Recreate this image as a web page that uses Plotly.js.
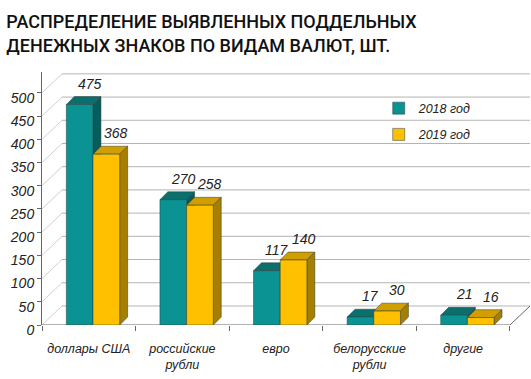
<!DOCTYPE html>
<html><head><meta charset="utf-8">
<script src="https://cdn.plot.ly/plotly-3.0.1.min.js"></script>
<style>html,body{margin:0;padding:0;background:#fff}#chart{width:531px;height:379px}</style>
</head><body><div id="chart"></div>
<script>
const categories = ['доллары США', 'российские<br>рубли', 'евро', 'белорусские<br>рубли', 'другие'];
const seriesNames = ['2018 год', '2019 год'];
const values2018 = [475, 270, 117, 17, 21];
const values2019 = [368, 258, 140, 30, 16];
const yTicks = [0, 50, 100, 150, 200, 250, 300, 350, 400, 450, 500];

const frontCol = ['#0b9292', '#ffc000'];
const topCol = ['#0b6f6d', '#d09e00'];
const sideCol = ['#075c5c', '#a77f00'];
const W = 0.285, OFF = [-0.24, 0.045];
const DX = 0.085, DY = 17;      // bar depth
const WX = 0.214, WY = 41;      // wall depth

const series = [values2018, values2019];
const shapes = [];
yTicks.forEach(v => {
  shapes.push({type:'line', layer:'below', xref:'x', yref:'y', x0:-0.5+WX, x1:4.5+WX, y0:v+WY, y1:v+WY, line:{color:'#b4b4b4', width:1}});
  shapes.push({type:'line', layer:'below', xref:'x', yref:'y', x0:-0.5, x1:-0.5+WX, y0:v, y1:v+WY, line:{color:'#d0d0d0', width:1}});
});
shapes.push({type:'line', layer:'below', xref:'x', yref:'y', x0:4.5, x1:4.5+WX, y0:0, y1:WY, line:{color:'#666', width:1}});
series.forEach((vals, s) => {
  vals.forEach((v, i) => {
    const x0 = i + OFF[s], x1 = x0 + W;
    shapes.push({type:'path', layer:'below', xref:'x', yref:'y',
      path:`M${x0},${v} L${x0+DX},${v+DY} L${x1+DX},${v+DY} L${x1},${v} Z`,
      fillcolor: topCol[s], line:{color:'#2a3a3a', width:0.5}});
    shapes.push({type:'path', layer:'below', xref:'x', yref:'y',
      path:`M${x1},0 L${x1},${v} L${x1+DX},${v+DY} L${x1+DX},${DY} Z`,
      fillcolor: sideCol[s], line:{color:'#2a3a3a', width:0.5}});
  });
});
shapes.push({type:'line', layer:'below', xref:'x', yref:'y', x0:-0.5, x1:4.5, y0:0, y1:0, line:{color:'#666', width:1}});

const annotations = [];
series.forEach((vals, s) => {
  vals.forEach((v, i) => {
    annotations.push({xref:'x', yref:'y', x: i + OFF[s] + W/2, y: v, text: String(v),
      showarrow:false, xshift: 10, yshift: 21,
      font:{family:'Arial, Liberation Sans, sans-serif', size:14, color:'#222', style:'italic'}});
  });
});

const traces = series.map((vals, s) => ({
  type:'bar', x: categories, y: vals, name: seriesNames[s], legendgroup: 'g'+s,
  width: W, offset: OFF[s],
  marker:{color: frontCol[s], line:{color:'#2a3a3a', width:0.5}},
  hoverinfo:'skip'
}));

const layout = {
  width:531, height:379,
  margin:{l:42, r:1, t:72, b:54},
  paper_bgcolor:'#fff', plot_bgcolor:'rgba(0,0,0,0)',
  title:{text:'РАСПРЕДЕЛЕНИЕ ВЫЯВЛЕННЫХ ПОДДЕЛЬНЫХ<br>ДЕНЕЖНЫХ ЗНАКОВ ПО ВИДАМ ВАЛЮТ, ШТ.',
    x:0.012, xanchor:'left', xref:'container', y:0.925, yanchor:'top', yref:'container',
    font:{family:'Roboto, sans-serif', size:18, color:'#111', weight:500}},
  showlegend:true,
  legend:{x:0.69, y:0.915, xanchor:'left', yanchor:'top', tracegroupgap:7,
    bgcolor:'rgba(0,0,0,0)', itemwidth:30,
    font:{family:'Arial, Liberation Sans, sans-serif', size:12.5, color:'#222', style:'italic'}},
  xaxis:{type:'category', range:[-0.5, 4.5+WX], showgrid:false, zeroline:false, tickangle:0,
    showline:false, ticks:'outside', tickson:'boundaries', ticklen:5, tickcolor:'#666',
    ticklabelstandoff:14,
    tickfont:{family:'Arial, Liberation Sans, sans-serif', size:12.5, color:'#222', style:'italic'}},
  yaxis:{range:[0, 545], tickmode:'array', tickvals:yTicks, showgrid:false, zeroline:false,
    showline:true, linecolor:'#666', linewidth:1, ticks:'outside', ticklen:4, tickcolor:'#666',
    ticklabelshift:5,
    tickfont:{family:'Arial, Liberation Sans, sans-serif', size:14, color:'#222', style:'italic'}},
  shapes: shapes,
  annotations: annotations
};

Plotly.newPlot('chart', traces, layout, {displayModeBar:false, staticPlot:true});
</script></body></html>
